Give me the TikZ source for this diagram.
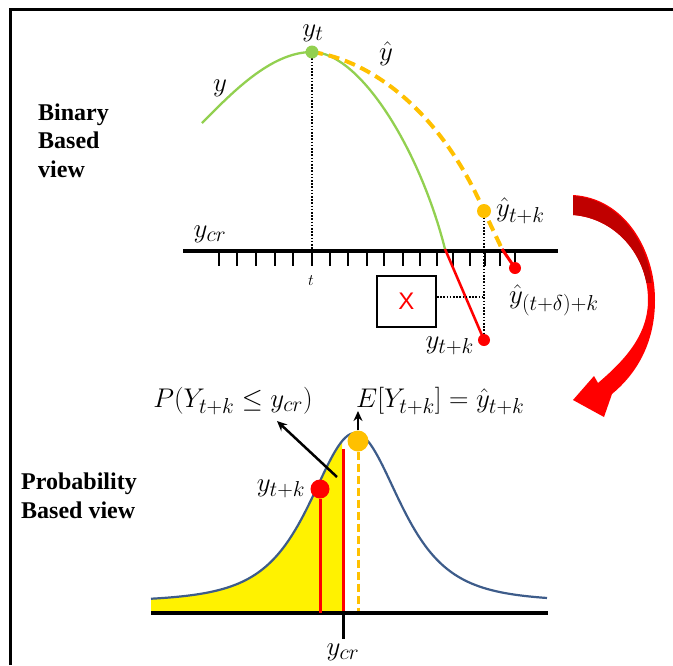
\documentclass[tikz,border=0pt]{standalone}
\usepackage{fix-cm}
\usepackage{fontspec}
\newfontfamily\lblfont{Liberation Serif}
\newfontfamily\xfont{Liberation Sans}
\usetikzlibrary{arrows.meta}
\DeclareMathSizes{27}{27}{21.6}{17}
\definecolor{ygreen}{RGB}{146,208,80}
\definecolor{yorange}{RGB}{255,192,0}
\definecolor{darkred}{RGB}{192,0,0}
\definecolor{curveblue}{RGB}{61,92,138}
\definecolor{fillyellow}{RGB}{255,242,0}
\tikzset{
  dot/.style={circle, inner sep=0pt, minimum size=#1},
  dot/.default=12pt,
  mlbl/.style={inner sep=0pt, font=\fontsize{27}{31}\selectfont},
  blbl/.style={inner sep=0pt, anchor=base west, font=\lblfont\bfseries\fontsize{24}{28}\selectfont},
  dotline/.style={black, line width=1.6pt, dash pattern=on 1.6pt off 1.6pt},
  ydash/.style={yorange, line width=4pt, dash pattern=on 11pt off 6pt},
  blk/.style={black, line width=2.5pt, -{Stealth[length=10pt,width=9pt]}},
}
\begin{document}
\begin{tikzpicture}[x=1pt,y=-1pt]
\useasboundingbox (0,0) rectangle (673,665);
% frame
\coordinate (fbl) at (10,665);
\coordinate (ftl) at (10,9.5);
\coordinate (ftr) at (673,9.5);
\draw[line width=3pt] (fbl) -- (ftl) -- (ftr);

% ---------- Binary based view ----------
\node[blbl] (b1) at (38,120) {Binary};
\node[blbl] (b2) at (38,148.5) {Based};
\node[blbl] (b3) at (38,177) {view};

% axis
\coordinate (axL) at (183,250.5);
\coordinate (axR) at (558,250.5);
\draw[line width=4pt] (axL) -- (axR);
\foreach \tx in {219,237,256,275,293,312,330,348,367,384,403,420,437,453,470,485,500,515}
  \draw[line width=2.3pt] (\tx,251) -- (\tx,266);

% points
\coordinate (gstart) at (202,123);
\coordinate (gpk) at (312,52);
\coordinate (gcross) at (445,249);
\coordinate (ypk) at (484,211);
\coordinate (ycross) at (502,249);
\coordinate (tfoot) at (312,250);
\coordinate (dotmid) at (484,297);

% dotted guides
\draw[dotline] (gpk) -- (tfoot);
\draw[dotline] (ypk) -- (484,340);

% green curve
\draw[ygreen, line width=2.3pt] (gstart) .. controls (230,95) and (270,52) .. (gpk)
   .. controls (360,52) and (420,150) .. (gcross);
% red continuation
\draw[red, line width=2.5pt] (gcross) -- (484,340);
% yellow dashed forecast
\draw[ydash] (gpk) .. controls (370,60) and (440,110) .. (ypk) -- (ycross);
\draw[red, line width=3pt] (ycross) -- (515,268);

% box with X
\node[draw, line width=2pt, minimum width=59pt, minimum height=51pt, inner sep=0pt,
      text=red, font=\xfont\fontsize{24}{24}\selectfont] (xbox) at (406.5,301.5) {X};
\draw[dotline] (xbox.east |- dotmid) -- (dotmid);

% dots
\node[dot=13pt, fill=ygreen] (gdot) at (gpk) {};
\node[dot=14pt, fill=yorange] (ydot) at (ypk) {};
\node[dot=12pt, fill=red] (rdot1) at (484,340) {};
\node[dot=12pt, fill=red] (rdot2) at (515,268) {};

% labels
\node[mlbl] (ly) at (220,88) {$y$};
\node[mlbl] (lyt) at (313,33) {$y_t$};
\node[mlbl] (lyhat) at (386,54) {$\hat{y}$};
\node[mlbl, anchor=west] (lyhk) at (496,211) {$\hat{y}_{t+k}$};
\node[mlbl, anchor=west] (lyhd) at (509,300) {$\hat{y}_{(t+\delta)+k}$};
\node[mlbl, anchor=east] (lytk) at (474,346) {$y_{t+k}$};
\node[mlbl] (lycr) at (210,234) {$y_{cr}$};
\node[inner sep=0pt, font=\fontsize{16}{16}\selectfont] (lt) at (311,281) {$t$};

% red curved arrow
\path[fill=red] (573,195) .. controls (625,198) and (655,250) .. (655,300)
   .. controls (655,345) and (635,375) .. (612,394) -- (604,417) -- (573,400)
   -- (594,376) -- (598,383) .. controls (625,360) and (648,335) .. (648,300)
   .. controls (648,255) and (615,218) .. (573,215) -- cycle;
\begin{scope}
  \clip (560,180) rectangle (673,282);
  \path[fill=darkred] (573,196) .. controls (622,199) and (651,248) .. (652,290)
     -- (648,300) .. controls (648,255) and (615,218) .. (573,215) -- cycle;
\end{scope}

% ---------- Probability based view ----------
\node[blbl] (p1) at (21,489) {Probability};
\node[blbl] (p2) at (21,518) {Based view};

\fill[fillyellow] (151,611) -- plot[domain=151:342, samples=80]
   (\x, {602-169/(1+((\x-355)/82)^2)^2}) -- (342,611) -- cycle;
\draw[curveblue, line width=2.2pt] plot[domain=151:547, samples=160]
   (\x, {602-169/(1+((\x-355)/82)^2)^2});

\coordinate (baseL) at (151,613);
\coordinate (baseR) at (548,613);
\draw[line width=4pt] (baseL) -- (baseR);
\coordinate (crtop) at (343,613);
\coordinate (crbot) at (343,639);
\draw[line width=3pt] (crtop) -- (crbot);

\node[dot=19pt, fill=red] (rdotb) at (320,489) {};
\node[dot=21pt, fill=yorange] (ydotb) at (358,441) {};
\draw[red, line width=3pt] (rdotb) -- (320,613);
\draw[red, line width=3pt] (343,449) -- (343,611);
\draw[yorange, line width=3pt, dash pattern=on 8pt off 4pt] (ydotb) -- (358,611);

\coordinate (pstart) at (337,477);
\coordinate (pend) at (277,421);
\coordinate (etip) at (358,411);
\draw[blk] (pstart) -- (pend);
\draw[blk] (ydotb.north) -- (etip);

\node[mlbl] (lP) at (233,401) {$P(Y_{t+k} \le y_{cr})$};
\node[mlbl, anchor=west] (lE) at (356,401) {$E[Y_{t+k}] = \hat{y}_{t+k}$};
\node[mlbl] (lytkb) at (281,489) {$y_{t+k}$};
\node[mlbl] (lycrb) at (343,652) {$y_{cr}$};
\end{tikzpicture}
\end{document}
